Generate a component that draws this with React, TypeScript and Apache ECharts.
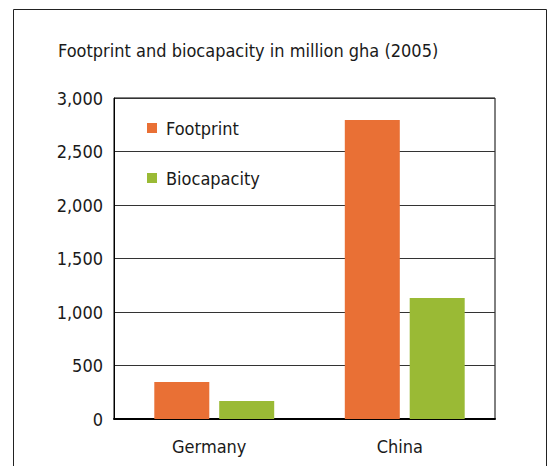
import React, { useEffect, useRef } from "react";
import * as echarts from "echarts";

const categories = ["Germany", "China"];
const footprint = [346, 2795];
const biocapacity = [168, 1130];
const seriesNames = ["Footprint", "Biocapacity"];
const yTicks = [0, 500, 1000, 1500, 2000, 2500, 3000];
const titleText = "Footprint and biocapacity in million gha (2005)";

const FONT = "'DejaVu Sans Condensed', 'DejaVu Sans', sans-serif";
const TEXT = "#1a1a1a";

export default function App() {
  const ref = useRef<HTMLDivElement>(null);
  useEffect(() => {
    if (!ref.current) return;
    const chart = echarts.init(ref.current, null, { renderer: "svg" });
    const yMin = yTicks[0];
    const yMax = yTicks[yTicks.length - 1];
    chart.setOption({
      animation: false,
      backgroundColor: "#fff",
      textStyle: { fontFamily: FONT },
      title: {
        text: titleText,
        left: 53,
        top: 36,
        textStyle: { fontFamily: FONT, fontSize: 18, fontWeight: "normal", color: TEXT },
      },
      graphic: [
        {
          type: "rect",
          shape: { x: 13.5, y: 9.5, width: 533, height: 470 },
          style: { fill: "none", stroke: "#222", lineWidth: 1 },
          silent: true,
        },
      ],
      legend: {
        orient: "vertical",
        left: 142,
        top: 114,
        itemWidth: 10,
        itemHeight: 10,
        itemGap: 32,
        icon: "rect",
        data: seriesNames,
        textStyle: { fontFamily: FONT, fontSize: 18, color: TEXT, padding: [0, 0, 0, 4] },
      },
      grid: [
        {
          left: 114,
          top: 98,
          right: 55,
          bottom: 47,
          show: true,
          borderColor: "#000",
          borderWidth: 1,
        },
        {
          left: 119,
          top: 98,
          right: 50,
          bottom: 47,
          show: false,
        },
      ],
      xAxis: [
        {
          type: "category",
          gridIndex: 0,
          data: categories,
          axisLine: { lineStyle: { color: "#000", width: 2 } },
          axisTick: { show: false },
          axisLabel: { fontFamily: FONT, fontSize: 18, color: TEXT, margin: 18 },
        },
        {
          type: "category",
          gridIndex: 1,
          data: categories,
          show: false,
        },
      ],
      yAxis: [
        {
          type: "value",
          gridIndex: 0,
          min: yMin,
          max: yMax,
          interval: 500,
          axisLine: { show: true, lineStyle: { color: "#000", width: 1 } },
          axisTick: { show: false },
          splitLine: { lineStyle: { color: "#333", width: 1 } },
          axisLabel: {
            fontFamily: FONT,
            fontSize: 18,
            color: TEXT,
            margin: 11,
            formatter: (v: number) => v.toLocaleString("en-US"),
          },
        },
        {
          type: "value",
          gridIndex: 1,
          min: yMin,
          max: yMax,
          interval: 500,
          show: false,
          splitLine: { show: false },
        },
      ],
      series: [
        {
          name: seriesNames[0],
          type: "bar",
          xAxisIndex: 1,
          yAxisIndex: 1,
          data: footprint,
          barWidth: 55,
          barGap: "18%",
          itemStyle: { color: "#e97035" },
        },
        {
          name: seriesNames[1],
          type: "bar",
          xAxisIndex: 1,
          yAxisIndex: 1,
          data: biocapacity,
          barWidth: 55,
          itemStyle: { color: "#9aba35" },
        },
      ],
    });
    return () => chart.dispose();
  }, []);
  return (
    <div
      ref={ref}
      style={{ position: "fixed", left: 0, top: 0, width: 550, height: 466 }}
    />
  );
}
